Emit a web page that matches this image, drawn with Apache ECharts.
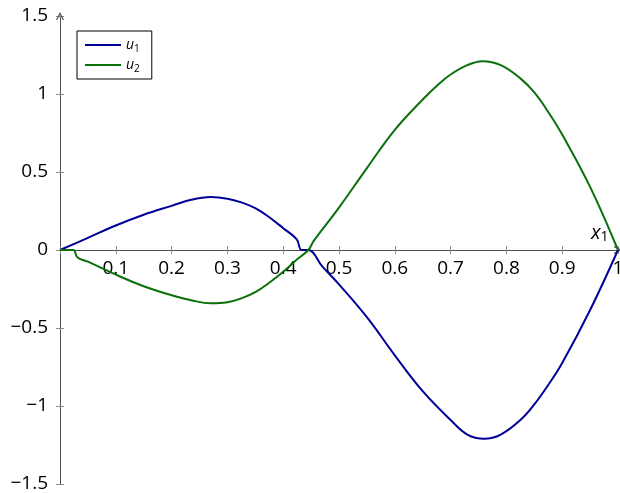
<!DOCTYPE html>
<html>
<head>
<meta charset="utf-8">
<script src="https://cdn.jsdelivr.net/npm/echarts@6/dist/echarts.min.js"></script>
<style>
  html, body { margin: 0; padding: 0; background: #fff; }
  #chart { width: 620px; height: 493px; }
</style>
</head>
<body>
<div id="chart"></div>
<script>
// Sample points of the two solution components along x1
const xU1 = [0, 0.05, 0.1, 0.15, 0.2, 0.235, 0.27, 0.3, 0.325, 0.35, 0.375, 0.4, 0.424, 0.433, 0.445,
             0.47, 0.5, 0.55, 0.6, 0.65, 0.7, 0.73, 0.76, 0.79, 0.825, 0.85, 0.875, 0.9, 0.95, 1];
const u1  = [0, 0.078, 0.157, 0.226, 0.283, 0.322, 0.339, 0.329, 0.305, 0.268, 0.21, 0.14, 0.07, 0, 0,
             -0.105, -0.22, -0.43, -0.675, -0.905, -1.09, -1.183, -1.21, -1.183, -1.09, -0.99, -0.865, -0.725, -0.385, 0];

const xU2 = [0, 0.024, 0.031, 0.05, 0.1, 0.15, 0.2, 0.235, 0.27, 0.3, 0.325, 0.35, 0.375, 0.4, 0.424, 0.445,
             0.455, 0.5, 0.55, 0.6, 0.65, 0.675, 0.7, 0.73, 0.757, 0.79, 0.825, 0.85, 0.875, 0.9, 0.95, 1];
const u2  = [0, 0, -0.047, -0.075, -0.158, -0.232, -0.29, -0.322, -0.342, -0.335, -0.31, -0.27, -0.21, -0.14, -0.063, 0,
             0.06, 0.272, 0.525, 0.77, 0.965, 1.052, 1.125, 1.185, 1.21, 1.185, 1.1, 1.01, 0.885, 0.74, 0.405, 0];

// Axis ranges and tick steps
const xRange = [0, 1];
const xStep = 0.1;
const yRange = [-1.5, 1.5];
const yStep = 0.5;

const seriesNames = ['u1', 'u2'];
const seriesColors = ['#000099', '#0a700a'];

const FONT = '"Open Sans", "Noto Sans", sans-serif';
const AXIS_COLOR = '#4d4d4d';
const TICK_COLOR = '#8c8c8c';
const ARROW = 'path://M5,0 L10,10 L8.4,10 L5,3 L1.6,10 L0,10 Z';

const GRID = { left: 60, right: 2, top: 16, bottom: 9 };
const PLOT_H = 493 - GRID.top - GRID.bottom;
// distance from the bottom of the plot area up to the y = 0 line
const zeroLift = PLOT_H * (0 - yRange[0]) / (yRange[1] - yRange[0]);

const minusFmt = v => (v < 0 ? '\u2212' + String(-v) : String(v));

const baseX = {
  type: 'value', min: xRange[0], max: xRange[1], interval: xStep,
  splitLine: { show: false }
};
const baseY = {
  type: 'value', min: yRange[0], max: yRange[1], interval: yStep,
  splitLine: { show: false }
};
const tickStyle = { color: TICK_COLOR, width: 1 };

const chart = echarts.init(document.getElementById('chart'), null, { renderer: 'canvas' });

chart.setOption({
  animation: false,
  backgroundColor: '#fff',
  grid: Object.assign({ containLabel: false, outerBoundsMode: 'none' }, GRID),
  legend: {
    orient: 'vertical',
    left: 77, top: 31,
    padding: [5, 12, 5, 8],
    itemWidth: 36, itemHeight: 2, itemGap: 2,
    icon: 'rect',
    borderColor: '#000', borderWidth: 1, borderRadius: 0,
    data: seriesNames,
    formatter: name => '{i|' + name.charAt(0) + '}{s|' + name.slice(1) + '}',
    textStyle: {
      color: '#000',
      lineHeight: 18,
      rich: {
        i: { fontFamily: FONT, fontStyle: 'italic', fontSize: 14, lineHeight: 18, color: '#000' },
        s: { fontFamily: FONT, fontSize: 10, lineHeight: 18, verticalAlign: 'bottom', padding: [6, 0, 0, 0], color: '#000' }
      }
    }
  },
  xAxis: [
    // axis line through y = 0, downward ticks and the x1 name
    Object.assign({}, baseX, {
      position: 'bottom',
      axisLine: { onZero: true, onZeroAxisIndex: 0, symbol: ['none', ARROW], symbolSize: [8, 8],
                  lineStyle: { color: AXIS_COLOR, width: 1 } },
      axisTick: { length: 4, lineStyle: tickStyle },
      axisLabel: { show: false },
      name: '{i|x}{s|1}',
      nameLocation: 'end',
      nameGap: -27,
      nameTextStyle: {
        align: 'left', verticalAlign: 'bottom', padding: [0, 0, 6, 0],
        rich: {
          i: { fontFamily: FONT, fontStyle: 'italic', fontSize: 20, color: '#000', lineHeight: 22 },
          s: { fontFamily: FONT, fontSize: 14, color: '#000', lineHeight: 22, verticalAlign: 'bottom', padding: [8, 0, 0, 0] }
        }
      }
    }),
    // upward halves of the ticks
    Object.assign({}, baseX, {
      position: 'top',
      axisLine: { show: false, onZero: true, onZeroAxisIndex: 0 },
      axisTick: { length: 4, lineStyle: tickStyle },
      axisLabel: { show: false }
    }),
    // tick labels just below the y = 0 line
    Object.assign({}, baseX, {
      position: 'bottom',
      offset: -zeroLift,
      axisLine: { show: false, onZero: false },
      axisTick: { show: false },
      axisLabel: { fontFamily: FONT, fontSize: 19, color: '#000', margin: 9,
                   formatter: v => (v === 0 ? '' : String(v)) }
    })
  ],
  yAxis: [
    Object.assign({}, baseY, {
      position: 'left',
      axisLine: { onZero: true, onZeroAxisIndex: 0, symbol: ['none', ARROW], symbolSize: [8, 8],
                  lineStyle: { color: AXIS_COLOR, width: 1 } },
      axisTick: { length: 4, lineStyle: tickStyle },
      axisLabel: { fontFamily: FONT, fontSize: 19, color: '#000', margin: 12, formatter: minusFmt }
    }),
    Object.assign({}, baseY, {
      position: 'right',
      axisLine: { show: false, onZero: true, onZeroAxisIndex: 0 },
      axisTick: { length: 4, lineStyle: tickStyle },
      axisLabel: { show: false }
    })
  ],
  series: [
    {
      name: seriesNames[0], type: 'line', xAxisIndex: 0, yAxisIndex: 0,
      showSymbol: false, smooth: 0.4,
      color: seriesColors[0],
      lineStyle: { width: 2, color: seriesColors[0] },
      data: xU1.map((x, i) => [x, u1[i]])
    },
    {
      name: seriesNames[1], type: 'line', xAxisIndex: 0, yAxisIndex: 0,
      showSymbol: false, smooth: 0.4,
      color: seriesColors[1],
      lineStyle: { width: 2, color: seriesColors[1] },
      data: xU2.map((x, i) => [x, u2[i]])
    }
  ]
});
</script>
</body>
</html>
